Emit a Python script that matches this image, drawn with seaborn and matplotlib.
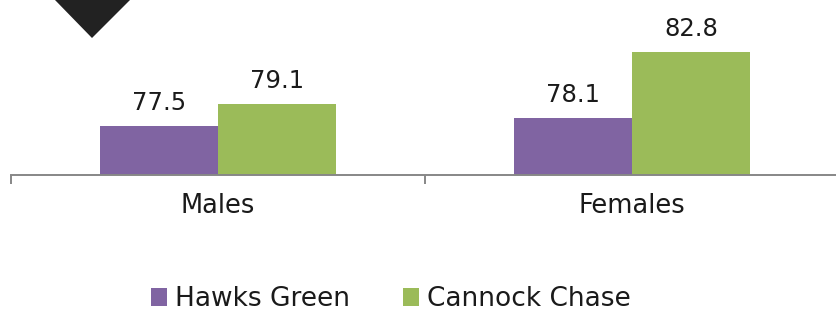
import matplotlib
matplotlib.use("Agg")
import matplotlib.pyplot as plt
from matplotlib.patches import Polygon
import pandas as pd
import seaborn as sns

# values
categories = ["Males", "Females"]
series_names = ["Hawks Green", "Cannock Chase"]
hawks_green = [77.5, 78.1]
cannock_chase = [79.1, 82.8]
colors = ["#8064A2", "#9BBB59"]

df = pd.DataFrame({
    "group": categories * 2,
    "area": [series_names[0]] * 2 + [series_names[1]] * 2,
    "value": hawks_green + cannock_chase,
})

sns.set_style("white")
plt.rcParams["font.family"] = ["DejaVu Sans"]

W, H = 837, 315
fig = plt.figure(figsize=(W / 100, H / 100), dpi=100)
ax = fig.add_axes([11 / W, (H - 175) / H, 828 / W, 175 / H])

sns.barplot(data=df, x="group", y="value", hue="area", order=categories,
            hue_order=series_names, palette=colors, width=0.57,
            saturation=1, linewidth=0, edgecolor="none", ax=ax)

ax.set_ylim(74, 86.54)
ax.set_xlim(-0.5, 1.5)
ax.set_xlabel("")
ax.set_ylabel("")
ax.set_yticks([])

for side in ["top", "left", "right"]:
    ax.spines[side].set_visible(False)
ax.spines["bottom"].set_color("#878787")
ax.spines["bottom"].set_linewidth(1.4)

ax.tick_params(axis="x", which="major", bottom=False, length=0, pad=13,
               labelsize=18.5, labelcolor="#1a1a1a")
ax.set_xticks([-0.5, 0.5, 1.5], minor=True)
ax.tick_params(axis="x", which="minor", bottom=True, length=6.5, width=1.4,
               color="#878787", direction="out")

for cont in ax.containers:
    ax.bar_label(cont, fmt="%.1f", padding=8, fontsize=17.5, color="#1a1a1a")

handles, labels = ax.get_legend_handles_labels()
ax.get_legend().remove()
fig.legend(handles, labels, loc="center", bbox_to_anchor=(391 / W, 16 / H),
           ncol=2, frameon=False, fontsize=19, handlelength=0.6,
           handleheight=0.65, handletextpad=0.3, columnspacing=2.0,
           borderpad=0, labelcolor="#1a1a1a")

# dark diamond decoration cut by the top edge
diamond = Polygon([(55 / W, 1.0), (92 / W, (H - 38) / H), (130 / W, 1.0),
                   (92 / W, 1.2)], closed=True, transform=fig.transFigure,
                  facecolor="#222222", edgecolor="none", clip_on=False)
fig.patches.append(diamond)

fig.savefig("out.png", dpi=100)
